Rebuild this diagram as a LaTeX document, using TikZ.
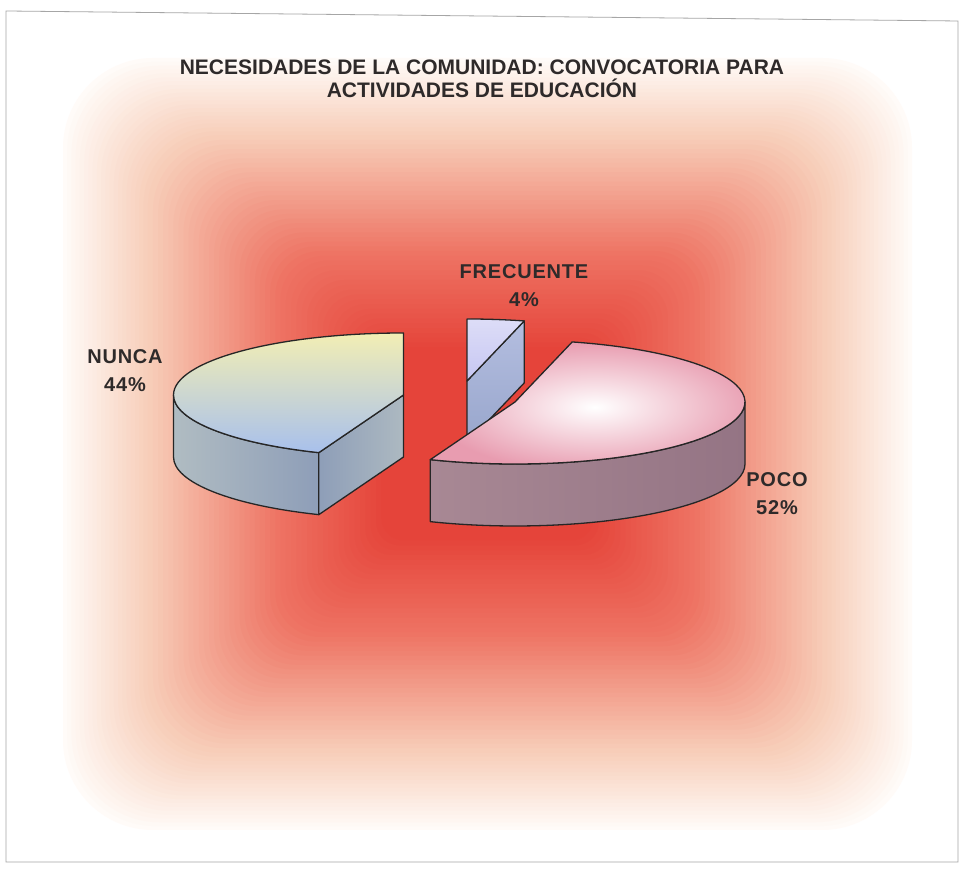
\documentclass[tikz,border=0pt]{standalone}
\usepackage{fontspec}
\setmainfont{Liberation Sans}
\newfontfamily\lblfont[LetterSpace=4]{Liberation Sans}
\usetikzlibrary{calc,positioning}

\definecolor{txtgray}{HTML}{2E2A2A}
\definecolor{bgA}{HTML}{FFFBF8}
\definecolor{bgB}{HTML}{F7CDB8}
\definecolor{bgC}{HTML}{EE7464}
\definecolor{bgD}{HTML}{E5443A}
\definecolor{nuncatopA}{HTML}{F2EEB4}
\definecolor{nuncatopB}{HTML}{B2C8F0}
\definecolor{nuncatopC}{HTML}{A8C0EC}
\definecolor{nuncawallA}{HTML}{B0BCC2}
\definecolor{nuncawallB}{HTML}{8E9EB8}
\definecolor{frectop}{HTML}{C6C6F2}
\definecolor{frecwallA}{HTML}{B4BEE0}
\definecolor{frecwallB}{HTML}{98A6CC}
\definecolor{pocotop}{HTML}{E89CB0}
\definecolor{pocowallA}{HTML}{A88894}
\definecolor{pocowallB}{HTML}{CCC4D0}
\definecolor{pocowallC}{HTML}{947484}

\begin{document}
\begin{tikzpicture}[x=1pt,y=1pt,
    slice/.style={draw=black!85,line width=1.3pt,line join=round},
    titlelbl/.style={font=\bfseries\fontsize{21}{23}\selectfont,text=txtgray,align=center,inner sep=0pt},
    lbl/.style={font=\lblfont\bfseries\fontsize{20}{28}\selectfont,text=txtgray,align=center,inner sep=0pt}]

  \useasboundingbox (0,0) rectangle (961,869);
  \fill[white] (0,0) rectangle (961,869);

  \foreach \i in {0,...,20}{
    \pgfmathsetmacro\s{1-0.2*\i/20}
    \pgfmathsetmacro\p{100*\i/20}
    \pgfmathsetmacro\r{90*\s}
    \fill[bgB!\p!bgA, rounded corners=\r pt] ({487.5-424.5*\s},{425-386*\s}) rectangle ({487.5+424.5*\s},{425+386*\s});
  }
  \foreach \i in {1,...,25}{
    \pgfmathsetmacro\s{0.8-0.3*\i/25}
    \pgfmathsetmacro\p{100*\i/25}
    \pgfmathsetmacro\r{90*\s}
    \fill[bgC!\p!bgB, rounded corners=\r pt] ({487.5-424.5*\s},{425-386*\s}) rectangle ({487.5+424.5*\s},{425+386*\s});
  }
  \foreach \i in {1,...,20}{
    \pgfmathsetmacro\s{0.5-0.25*\i/20}
    \pgfmathsetmacro\p{100*\i/20}
    \pgfmathsetmacro\r{90*\s}
    \fill[bgD!\p!bgC, rounded corners=\r pt] ({487.5-424.5*\s},{425-386*\s}) rectangle ({487.5+424.5*\s},{425+386*\s});
  }

  \draw[gray!70,line width=0.8pt] (6,858) -- (958,848) -- (958,7) -- (6,7) -- cycle;

  \node[titlelbl] (title) at (482,790) {NECESIDADES DE LA COMUNIDAD: CONVOCATORIA PARA\\ACTIVIDADES DE EDUCACIÓN};

  \coordinate (cF) at (467,488);
  \coordinate (cN) at (403.5,474);
  \coordinate (cP) at (515,467);

  \coordinate (f0) at ($(cF)+(90:230pt and 62pt)$);
  \coordinate (f1) at ($(cF)+(75.6:230pt and 62pt)$);
  \coordinate (n0) at ($(cN)+(90:230pt and 62pt)$);
  \coordinate (n1) at ($(cN)+(248.4:230pt and 62pt)$);
  \coordinate (n2) at ($(cN)+(180:230pt and 62pt)$);
  \coordinate (p0) at ($(cP)+(248.4:230pt and 62pt)$);

  \shadedraw[slice,top color=frecwallA,bottom color=frecwallB] (cF) -- (f1) -- ($(f1)+(0,-62)$) -- ($(cF)+(0,-62)$) -- cycle;
  \shadedraw[slice,top color=frectop!60!white,bottom color=frectop] (cF) -- (f0) arc[start angle=90,end angle=75.6,x radius=230pt,y radius=62pt] -- cycle;

  \shadedraw[slice,left color=nuncawallA,right color=nuncawallB] (n2) arc[start angle=180,end angle=248.4,x radius=230pt,y radius=62pt] -- ++(0,-62) arc[start angle=248.4,end angle=180,x radius=230pt,y radius=62pt] -- cycle;
  \shadedraw[slice,left color=nuncawallB,right color=nuncawallA!90!nuncawallB] (cN) -- (n1) -- ++(0,-62) -- ($(cN)+(0,-62)$) -- cycle;
  \shadedraw[slice,top color=nuncatopA,middle color=nuncatopB,bottom color=nuncatopC] (cN) -- (n0) arc[start angle=90,end angle=248.4,x radius=230pt,y radius=62pt] -- cycle;

  \shadedraw[slice,left color=pocowallA,middle color=pocowallB,right color=pocowallC] (p0) arc[start angle=248.4,end angle=360,x radius=230pt,y radius=62pt] -- ++(0,-62) arc[start angle=360,end angle=248.4,x radius=230pt,y radius=62pt] -- cycle;
  \shadedraw[slice,inner color=white,outer color=pocotop] (cP) -- (p0) arc[start angle=248.4,end angle=435.6,x radius=230pt,y radius=62pt] -- cycle;

  \node[lbl] (frecuente) at (524,583) {FRECUENTE\\4\%};
  \node[lbl] (nunca) at (125,498) {NUNCA\\44\%};
  \node[lbl] (poco) at (777,375) {POCO\\52\%};
\end{tikzpicture}
\end{document}
